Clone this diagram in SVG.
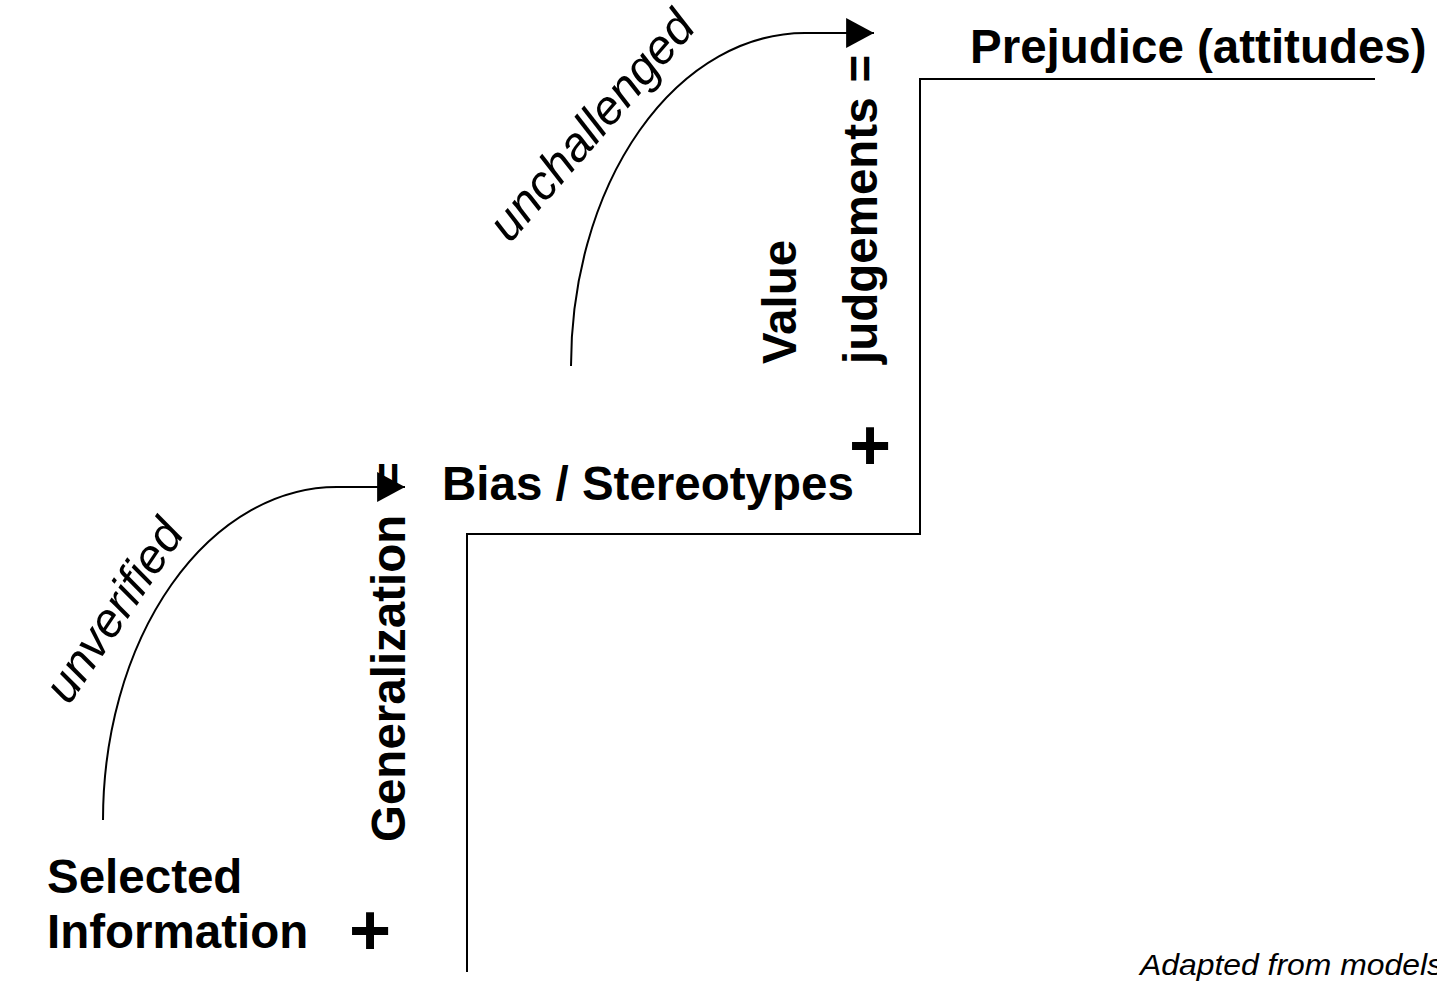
<svg xmlns="http://www.w3.org/2000/svg" width="1437" height="983" viewBox="0 0 1437 983">
<style>
.b{font-family:"Liberation Sans",Arial,sans-serif;font-weight:bold;font-size:47.5px;fill:#000}
.i{font-family:"Liberation Sans",Arial,sans-serif;font-style:italic;font-size:48px;fill:#000}
.plus{font-family:"Liberation Sans",Arial,sans-serif;font-weight:bold;font-size:72px;fill:#000}
.ln{fill:none;stroke:#000;stroke-width:2}
</style>
<defs>
<marker id="ah" markerUnits="userSpaceOnUse" markerWidth="28" markerHeight="30" viewBox="0 0 26 28" refX="26" refY="14" orient="auto">
<path d="M0,0 L26,14 L0,28 Z" fill="#000"/>
</marker>
</defs>
<g id="staircase">
<path class="ln" d="M467,972 V534 H920 V79 H1375"/>
</g>
<g id="connectors">
<path class="ln" d="M103,820 A234,333 0 0 1 337,487 L405,487" marker-end="url(#ah)"/>
<path class="ln" d="M571,366 A234,333 0 0 1 805,33 L874,33" marker-end="url(#ah)"/>
</g>
<g id="selected-information">
<text class="b" x="47" y="893">Selected</text>
<text class="b" x="47" y="948">Information</text>
<text class="plus" x="349" y="955">+</text>
</g>
<g id="generalization">
<text class="b" transform="translate(405,842) rotate(-90)">Generalization<tspan dx="25">=</tspan></text>
</g>
<g id="unverified">
<text class="i" transform="translate(69,706) rotate(-56)">unverified</text>
</g>
<g id="bias-stereotypes">
<text class="b" x="442" y="500">Bias / Stereotypes</text>
<text class="plus" x="849" y="470">+</text>
</g>
<g id="value-judgements">
<text class="b" transform="translate(796,364) rotate(-90)">Value</text>
<text class="b" transform="translate(877,364) rotate(-90)">judgements<tspan dx="15">=</tspan></text>
</g>
<g id="unchallenged">
<text class="i" transform="translate(510,244) rotate(-49)">unchallenged</text>
</g>
<g id="prejudice">
<text class="b" x="970" y="63">Prejudice (attitudes)</text>
</g>
<g id="credit">
<text class="i" style="font-size:30px" x="1140" y="975" textLength="303" lengthAdjust="spacingAndGlyphs">Adapted from models</text>
</g>
</svg>
